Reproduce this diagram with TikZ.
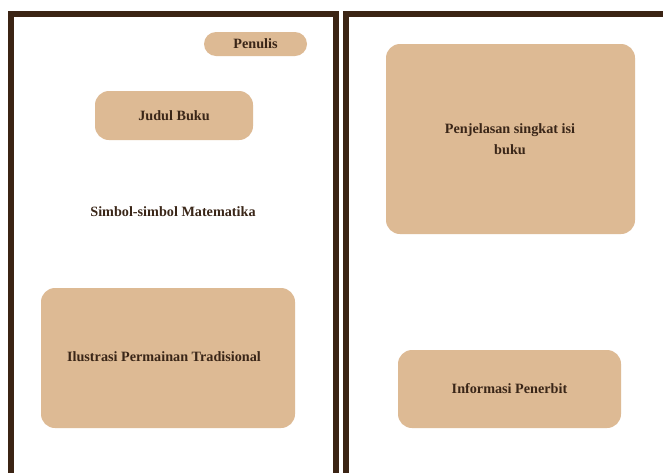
\documentclass[tikz,border=0pt]{standalone}
\usepackage{fontspec}
\setmainfont{Liberation Serif}
\definecolor{frame}{HTML}{3B2414}
\definecolor{boxfill}{HTML}{DDBA94}
\definecolor{txt}{HTML}{3A2618}
\begin{document}
\begin{tikzpicture}[x=1pt,y=-1pt,
  panel/.style={draw=frame,line width=6pt},
  card/.style={fill=boxfill,rounded corners=14pt},
  lbl/.style={text=txt,font=\bfseries\fontsize{14.2}{21}\selectfont,align=center}]
\useasboundingbox[fill=white] (0,0) rectangle (663,472);
% panels
\draw[panel] (10.5,475) -- (10.5,14) -- (336,14) -- (336,475);
\draw[panel] (346,475) -- (346,14) -- (670,14);
% left panel
\fill[card,rounded corners=12pt] (204,32) rectangle (307,56);
\node[lbl] (penulis) at (255.5,44) {Penulis};
\fill[card] (95,91) rectangle (253,140);
\node[lbl] (judul) at (174,115.5) {Judul Buku};
\node[lbl] (simbol) at (173,212) {Simbol-simbol Matematika};
\fill[card] (41,288) rectangle (295,428);
\node[lbl] (ilustrasi) at (164,357) {Ilustrasi Permainan Tradisional};
% right panel
\fill[card] (386,44) rectangle (635,234);
\node[lbl] (penjelasan) at (510,139) {Penjelasan singkat isi\\buku};
\fill[card] (398,350) rectangle (621,428);
\node[lbl] (penerbit) at (509.5,389) {Informasi Penerbit};
\end{tikzpicture}
\end{document}
